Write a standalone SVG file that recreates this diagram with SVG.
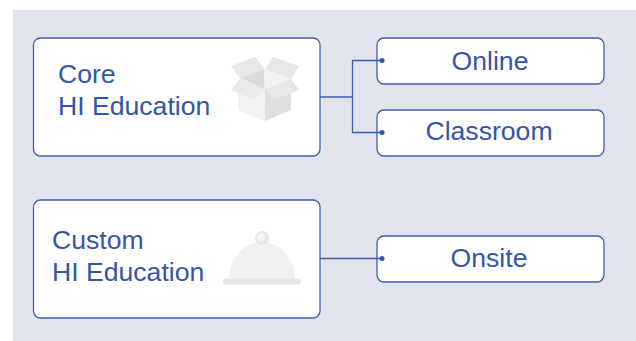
<svg xmlns="http://www.w3.org/2000/svg" width="636" height="341" viewBox="0 0 636 341">
<style>
.box{fill:#fff;stroke:#3f60ae;stroke-width:1.3}
.t{font-family:"Liberation Sans",Arial,sans-serif;font-size:26.6px;fill:#3556a6}
.m{text-anchor:middle}
.c{fill:none;stroke:#3f60ae;stroke-width:1.3}
.d{fill:#3556a6}
</style>
<rect width="636" height="341" fill="#fff"/>
<rect x="13" y="10" width="623" height="331" fill="#e1e4ed"/>
<g id="node-core">
<rect class="box" x="33.500" y="38" width="286.500" height="118" rx="7"/>
<text class="t" x="58" y="83">Core</text>
<text class="t" x="58" y="115">HI Education</text>
<g id="box-icon">
<polygon points="238,85 265,89 265,121 238,110" fill="#f2f2f2"/>
<polygon points="265,89 291,85 291,110 265,121" fill="#dedede"/>
<polygon points="240,78 264.500,69 264.500,89" fill="#dadada"/>
<polygon points="264.500,69 291,79 264.500,89" fill="#f2f2f2"/>
<polygon points="231,66 255,57 264.500,69 240,78" fill="#e7e7e7"/>
<polygon points="273,57 299,66 291,79 265,69" fill="#e7e7e7"/>
<polygon points="240,78 265,89 254,100 231,90" fill="#e9e9e9"/>
<polygon points="265,89 291,79 299,90 274,100" fill="#e7e7e7"/>
</g>
</g>
<g id="node-custom">
<rect class="box" x="33.500" y="200" width="286.500" height="118" rx="7"/>
<text class="t" x="52" y="249">Custom</text>
<text class="t" x="52" y="281">HI Education</text>
<g id="cloche-icon">
<path d="M229 279 A33 37 0 0 1 295 279 Z" fill="#f1f1f1"/>
<circle cx="262" cy="238" r="7" fill="#e6e6e6"/>
<circle cx="261" cy="237" r="4" fill="#f8f8f8"/>
<rect x="223" y="278.500" width="78" height="6" rx="3" fill="#e6e6e6"/>
</g>
</g>
<g id="node-online">
<rect class="box" x="377" y="38" width="227" height="46" rx="7"/>
<text class="t m" x="490" y="70">Online</text>
</g>
<g id="node-classroom">
<rect class="box" x="377" y="110" width="227" height="46" rx="7"/>
<text class="t m" x="489" y="140">Classroom</text>
</g>
<g id="node-onsite">
<rect class="box" x="377" y="236" width="227" height="46" rx="7"/>
<text class="t m" x="489" y="267">Onsite</text>
</g>
<g id="connectors">
<path class="c" d="M320 97H352.500M382 60.500H352.500V132.500H382"/>
<path class="c" d="M320 258.500H382"/>
<circle class="d" cx="382" cy="60.500" r="2.500"/>
<circle class="d" cx="382" cy="132.500" r="2.500"/>
<circle class="d" cx="382" cy="258.500" r="2.500"/>
</g>
</svg>
